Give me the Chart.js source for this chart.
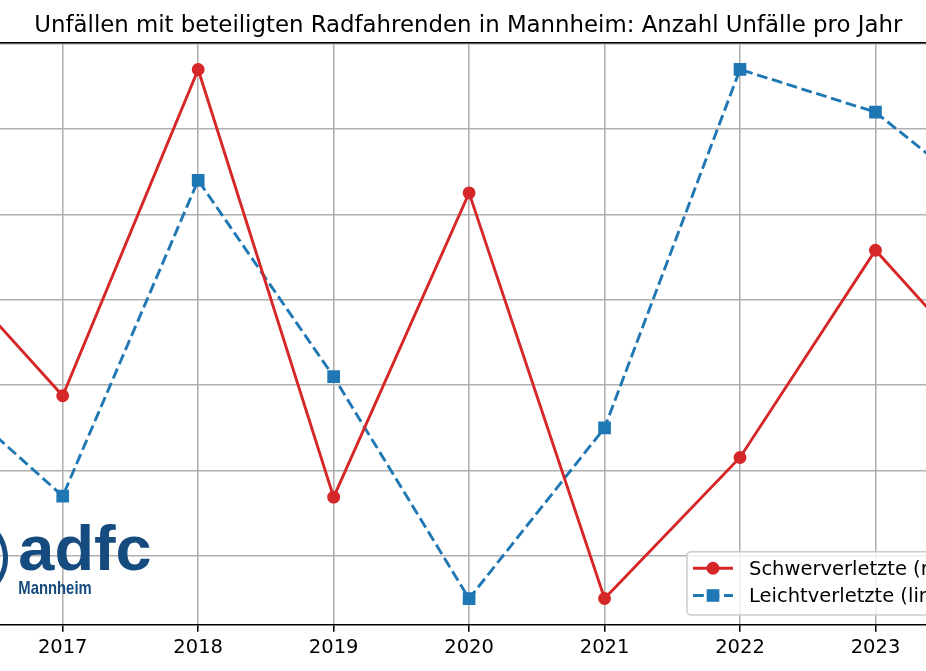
<!DOCTYPE html>
<html lang="de">
<head>
<meta charset="utf-8">
<title>Unfälle Radfahrende Mannheim</title>
<script src="https://cdn.jsdelivr.net/npm/chart.js@4.4.1/dist/chart.umd.min.js"></script>
<style>
  html, body { margin: 0; padding: 0; background: #fff; overflow: hidden; }
  canvas { display: block; }
</style>
</head>
<body>
<canvas id="unfallChart" width="926" height="671"></canvas>
<script>
// ---daten---
const jahre = [2016, 2017, 2018, 2019, 2020, 2021, 2022, 2023, 2024];
const schwerverletzte = [280, 246, 320, 223, 292, 200, 232, 279, 245];
const leichtverletzte = [685, 628, 776, 684, 580, 660, 828, 808, 757];
const jahresTicks = [2017, 2018, 2019, 2020, 2021, 2022, 2023];
const gitterWerte = [600, 640, 680, 720, 760, 800, 840];
// sichtbarer Ausschnitt der x-Achse
const sichtbarVon = 2016.537;
const sichtbarBis = 2023.373;

const titel = "Unfällen mit beteiligten Radfahrenden in Mannheim: Anzahl Unfälle pro Jahr";
const rot = "#d62728";
const blau = "#1f77b4";
const logoBlau = "#154b7e";

// matplotlib-artige Grenzen mit 5% Rand
function grenzen(werte) {
  const lo = Math.min(...werte);
  const hi = Math.max(...werte);
  const rand = (hi - lo) * 0.05;
  return { min: lo - rand, max: hi + rand };
}
const gRot = grenzen(schwerverletzte);
const gBlau = grenzen(leichtverletzte);

// ---titel, logo und legende---
const zusatzPlugin = {
  id: "zusatz",
  afterDraw(chart) {
    const ctx = chart.ctx;
    const area = chart.chartArea;
    ctx.save();

    // titel
    ctx.fillStyle = "#000";
    ctx.font = '22.85px "DejaVu Sans"';
    ctx.textAlign = "center";
    ctx.textBaseline = "alphabetic";
    ctx.fillText(titel, 468.3, area.top - 11.5);

    // logo
    ctx.strokeStyle = logoBlau;
    ctx.lineWidth = 5;
    ctx.beginPath();
    ctx.arc(-35, 558, 40.5, -0.9, 0.9);
    ctx.stroke();

    ctx.fillStyle = logoBlau;
    ctx.textAlign = "left";
    ctx.font = 'bold 63px "Liberation Sans"';
    let w = ctx.measureText("adfc").width;
    ctx.save();
    ctx.translate(18.3, 570);
    ctx.scale(133.4 / w, 1);
    ctx.fillText("adfc", 0, 0);
    ctx.restore();

    ctx.font = 'bold 17.7px "Liberation Sans Narrow", "Liberation Sans"';
    w = ctx.measureText("Mannheim").width;
    ctx.save();
    ctx.translate(18.3, 594.3);
    ctx.scale(73.4 / w, 1);
    ctx.fillText("Mannheim", 0, 0);
    ctx.restore();

    // legende
    const lx = area.left + 687;
    const ly = area.bottom - 73.3;
    ctx.beginPath();
    ctx.roundRect(lx, ly, 400, 63.3, 4);
    ctx.fillStyle = "rgba(255,255,255,0.8)";
    ctx.fill();
    ctx.strokeStyle = "#cccccc";
    ctx.lineWidth = 1.5;
    ctx.stroke();

    const zeilen = [ly + 16.6, ly + 43.8];
    chart.data.datasets.forEach(function (ds, i) {
      const y = zeilen[i];
      ctx.strokeStyle = ds.borderColor;
      ctx.lineWidth = ds.borderWidth;
      ctx.setLineDash(ds.borderDash || []);
      ctx.beginPath();
      ctx.moveTo(lx + 6, y);
      ctx.lineTo(lx + 46, y);
      ctx.stroke();
      ctx.setLineDash([]);

      ctx.fillStyle = ds.borderColor;
      ctx.lineWidth = ds.pointBorderWidth;
      ctx.beginPath();
      if (ds.pointStyle === "rect") {
        const s = Math.SQRT1_2 * ds.pointRadius;
        ctx.rect(lx + 26 - s, y - s, 2 * s, 2 * s);
      } else {
        ctx.arc(lx + 26, y, ds.pointRadius, 0, Math.PI * 2);
      }
      ctx.fill();
      ctx.stroke();

      ctx.fillStyle = "#000";
      ctx.font = '19.5px "DejaVu Sans"';
      ctx.fillText(ds.label, lx + 62, y + 6.7);
    });

    ctx.restore();
  },
};

// ---chart---
var ctxU = document.getElementById("unfallChart").getContext("2d");
var unfallChart = new Chart(ctxU, {
  type: "line",
  data: {
    datasets: [
      {
        label: "Schwerverletzte (rechts)",
        data: jahre.map((j, i) => ({ x: j, y: schwerverletzte[i] })),
        yAxisID: "yRechts",
        borderColor: rot,
        backgroundColor: rot,
        borderWidth: 2.9,
        pointStyle: "circle",
        pointRadius: 5.7,
        pointHoverRadius: 5.7,
        pointBorderWidth: 1.5,
        tension: 0,
        clip: 0,
      },
      {
        label: "Leichtverletzte (links)",
        data: jahre.map((j, i) => ({ x: j, y: leichtverletzte[i] })),
        yAxisID: "yLinks",
        borderColor: blau,
        backgroundColor: blau,
        borderWidth: 2.9,
        borderDash: [10.8, 4.7],
        pointStyle: "rect",
        pointRadius: 7.9,
        pointHoverRadius: 7.9,
        pointBorderWidth: 1.5,
        tension: 0,
        clip: 0,
      },
    ],
  },
  options: {
    responsive: false,
    animation: false,
    layout: { autoPadding: false, padding: { top: 43, bottom: 7.8, left: 0, right: 0 } },
    plugins: {
      legend: { display: false },
      title: { display: false },
      tooltip: { enabled: false },
    },
    scales: {
      x: {
        type: "linear",
        position: "bottom",
        min: sichtbarVon,
        max: sichtbarBis,
        afterBuildTicks: (s) => {
          s.ticks = jahresTicks.map((v) => ({ value: v }));
        },
        ticks: {
          callback: (v) => String(v),
          color: "#000",
          font: { family: "DejaVu Sans", size: 19.5 },
          padding: 4,
          maxRotation: 0,
          autoSkip: false,
        },
        grid: {
          color: "#b0b0b0",
          lineWidth: 1.56,
          drawTicks: true,
          tickLength: 6.8,
          tickColor: "#000",
          tickWidth: 1.56,
        },
        border: { display: true, color: "#000", width: 1.56 },
      },
      xOben: {
        type: "linear",
        position: "top",
        min: sichtbarVon,
        max: sichtbarBis,
        ticks: { display: false },
        grid: { display: false, drawTicks: false },
        border: { display: true, color: "#000", width: 1.56 },
      },
      yLinks: {
        type: "linear",
        position: "left",
        min: gBlau.min,
        max: gBlau.max,
        afterBuildTicks: (s) => {
          s.ticks = gitterWerte.map((v) => ({ value: v }));
        },
        ticks: { display: false },
        grid: { color: "#b0b0b0", lineWidth: 1.56, drawTicks: false },
        border: { display: false },
      },
      yRechts: {
        type: "linear",
        position: "right",
        min: gRot.min,
        max: gRot.max,
        ticks: { display: false },
        grid: { display: false, drawTicks: false },
        border: { display: false },
      },
    },
  },
  plugins: [zusatzPlugin],
});
</script>
</body>
</html>
